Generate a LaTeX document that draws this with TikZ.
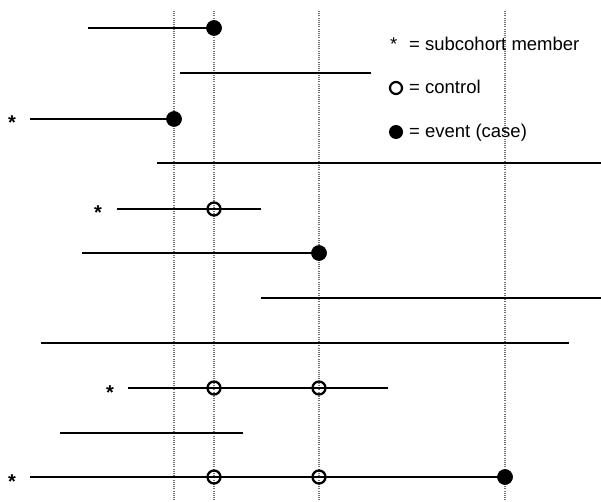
\documentclass[tikz,border=0pt]{standalone}
\usepackage{fontspec}
\setmainfont{Liberation Sans}
\begin{document}
\begin{tikzpicture}[x=1pt,y=-1pt,
  every node/.style={font=\fontsize{18.5}{22}\selectfont},
  grid/.style={draw=black!55, line width=1.1pt, dash pattern=on 1pt off 1.2pt},
  span/.style={draw=black, line width=2.4pt},
  event/.style={circle, fill=black, inner sep=0pt, minimum size=15.5pt},
  ctrl/.style={circle, draw=black, line width=2.3pt, fill=none, inner sep=0pt, minimum size=13pt},
  lev/.style={circle, fill=black, inner sep=0pt, minimum size=14pt},
  lctrl/.style={circle, draw=black, line width=2.2pt, inner sep=0pt, minimum size=12pt},
  star/.style={inner sep=0pt, anchor=base, font=\fontsize{20}{22}\selectfont\bfseries},
  ltext/.style={inner sep=0pt, anchor=base west}]
\useasboundingbox (0,0) rectangle (601,502);
% vertical dotted reference lines
\foreach \x/\n in {174/a,214/b,319/c,505/d} {
  \coordinate (t\n) at (\x,11);
  \coordinate (u\n) at (\x,502);
  \draw[grid] (t\n) -- (u\n);
}
% row 1
\coordinate (s1) at (88,28);
\node[event] (e1) at (214,28) {};
\draw[span] (s1) -- (e1.center);
\node[event] at (e1) {};
% row 2
\coordinate (s2) at (180,73); \coordinate (f2) at (371,73);
\draw[span] (s2) -- (f2);
% row 3
\node[star] (k3) at (12,130) {*};
\coordinate (s3) at (30,119);
\node[event] (e3) at (174,119) {};
\draw[span] (s3) -- (e3.center);
\node[event] at (e3) {};
% row 4
\coordinate (s4) at (157,163); \coordinate (f4) at (601,163);
\draw[span] (s4) -- (f4);
% row 5
\node[star] (k5) at (98,220) {*};
\coordinate (s5) at (117,209); \coordinate (f5) at (261,209);
\draw[span] (s5) -- (f5);
\node[ctrl] (c5) at (214,209) {};
% row 6
\coordinate (s6) at (82,253);
\node[event] (e6) at (319,253) {};
\draw[span] (s6) -- (e6.center);
\node[event] at (e6) {};
% row 7
\coordinate (s7) at (261,298); \coordinate (f7) at (601,298);
\draw[span] (s7) -- (f7);
% row 8
\coordinate (s8) at (41,343); \coordinate (f8) at (569,343);
\draw[span] (s8) -- (f8);
% row 9
\node[star] (k9) at (110,399) {*};
\coordinate (s9) at (128,388); \coordinate (f9) at (388,388);
\draw[span] (s9) -- (f9);
\node[ctrl] (c9a) at (214,388) {};
\node[ctrl] (c9b) at (319,388) {};
% row 10
\coordinate (s10) at (60,433); \coordinate (f10) at (243,433);
\draw[span] (s10) -- (f10);
% row 11
\node[star] (k11) at (12,488) {*};
\coordinate (s11) at (30,477);
\node[event] (e11) at (505,477) {};
\draw[span] (s11) -- (e11.center);
\node[event] at (e11) {};
\node[ctrl] (c11a) at (214,477) {};
\node[ctrl] (c11b) at (319,477) {};
% legend
\node[ltext, font=\fontsize{18.5}{22}\selectfont] (lk) at (390,51) {*};
\node[ltext] (l1) at (409,51) {= subcohort member};
\node[lctrl] (lc) at (396,88) {};
\node[ltext] (l2) at (409,94) {= control};
\node[lev] (le) at (396,132) {};
\node[ltext] (l3) at (409,138) {= event (case)};
\end{tikzpicture}
\end{document}
